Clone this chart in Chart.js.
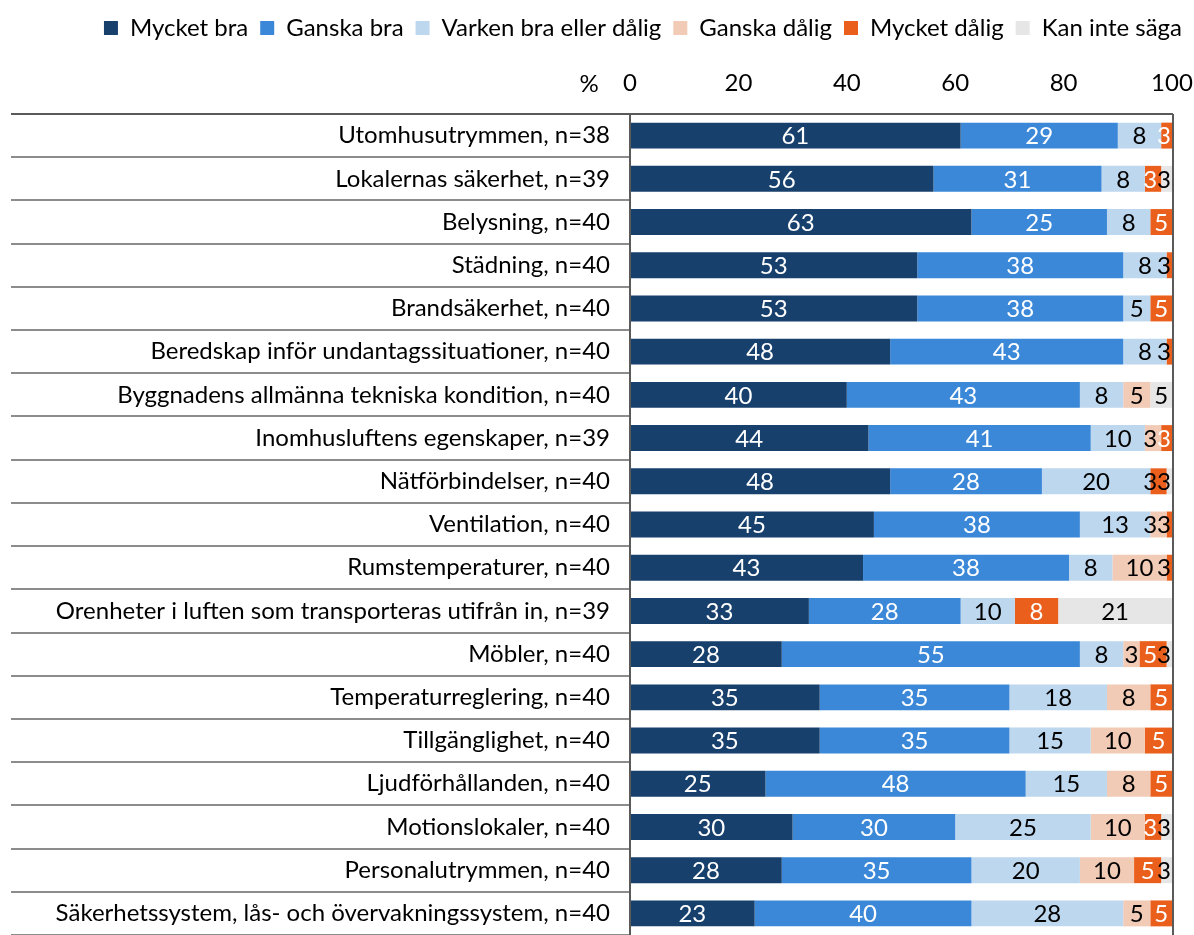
<!DOCTYPE html>
<html>
<head>
<meta charset="utf-8">
<script src="https://cdn.jsdelivr.net/npm/chart.js@4.4.1/dist/chart.umd.min.js"></script>
<style>
    body { margin: 0; background: #fff; }
    #wrap { width: 1194px; height: 935px; position: relative; }
</style>
</head>
<body>
<div id="wrap"><canvas id="betygChart"></canvas></div>
<script>
const kategorier = [
    'Utomhusutrymmen, n=38',
    'Lokalernas säkerhet, n=39',
    'Belysning, n=40',
    'Städning, n=40',
    'Brandsäkerhet, n=40',
    'Beredskap inför undantagssituationer, n=40',
    'Byggnadens allmänna tekniska kondition, n=40',
    'Inomhusluftens egenskaper, n=39',
    'Nätförbindelser, n=40',
    'Ventilation, n=40',
    'Rumstemperaturer, n=40',
    'Orenheter i luften som transporteras utifrån in, n=39',
    'Möbler, n=40',
    'Temperaturreglering, n=40',
    'Tillgänglighet, n=40',
    'Ljudförhållanden, n=40',
    'Motionslokaler, n=40',
    'Personalutrymmen, n=40',
    'Säkerhetssystem, lås- och övervakningssystem, n=40'
];

const mycketBra    = [61, 56, 63, 53, 53, 48, 40, 44, 48, 45, 43, 33, 28, 35, 35, 25, 30, 28, 23];
const ganskaBra    = [29, 31, 25, 38, 38, 43, 43, 41, 28, 38, 38, 28, 55, 35, 35, 48, 30, 35, 40];
const varken       = [8, 8, 8, 8, 5, 8, 8, 10, 20, 13, 8, 10, 8, 18, 15, 15, 25, 20, 28];
const ganskaDalig  = [0, 0, 0, 0, 0, 0, 5, 3, 0, 3, 10, 0, 3, 8, 10, 8, 10, 10, 5];
const mycketDalig  = [3, 3, 5, 3, 5, 3, 0, 3, 3, 3, 3, 8, 5, 5, 5, 5, 3, 5, 5];
const kanInteSaga  = [0, 3, 0, 0, 0, 0, 5, 0, 3, 0, 0, 21, 3, 0, 0, 0, 3, 3, 0];

const xTicks = [0, 20, 40, 60, 80, 100];

const FONT = "Lato, 'Liberation Sans', sans-serif";
const SIZE = 24;
const linje = '#8c8c8c';

function serie(label, data, color, textColor) {
    return {
        label: label,
        data: data,
        backgroundColor: color,
        borderWidth: 0,
        textColor: textColor,
        categoryPercentage: 0.6,
        barPercentage: 1.0
    };
}

// value labels in each segment; rounded shares can run past 100 %,
// so labels are pulled back inside the frame and kept from overlapping
const vardeEtiketter = {
    id: 'vardeEtiketter',
    afterDatasetsDraw(chart) {
        const ctx = chart.ctx;
        const area = chart.chartArea;
        const sets = chart.data.datasets;
        ctx.save();
        ctx.font = SIZE + 'px ' + FONT;
        ctx.textAlign = 'center';
        ctx.textBaseline = 'middle';
        kategorier.forEach((_, j) => {
            const rad = [];
            sets.forEach((ds, i) => {
                const v = ds.data[j];
                if (!v) return;
                const bar = chart.getDatasetMeta(i).data[j];
                const txt = String(v);
                rad.push({
                    txt,
                    w: ctx.measureText(txt).width,
                    y: bar.y + 1,
                    left: Math.min(bar.base, bar.x),
                    right: Math.min(Math.max(bar.base, bar.x), area.right),
                    textColor: ds.textColor
                });
            });
            let grans = area.right - 1;
            for (let k = rad.length - 1; k >= 0; k--) {
                const e = rad[k];
                e.cx = Math.min((e.left + e.right) / 2, grans - e.w / 2);
                grans = e.cx - e.w / 2;
            }
            rad.forEach(e => {
                // dark text when the label no longer sits on its own colour
                const over = Math.min(e.right, e.cx + e.w / 2) - Math.max(e.left, e.cx - e.w / 2);
                ctx.fillStyle = over < e.w * 0.6 ? '#000000' : e.textColor;
                ctx.fillText(e.txt, e.cx, e.y);
            });
        });
        ctx.restore();
    }
};

// row separators in the label column, frame and the % sign
const ram = {
    id: 'ram',
    afterDraw(chart) {
        const ctx = chart.ctx;
        const area = chart.chartArea;
        const y = chart.scales.y;
        const x = chart.scales.x;
        const steg = (y.getPixelForValue(1) - y.getPixelForValue(0));
        ctx.save();
        ctx.strokeStyle = linje;
        ctx.lineWidth = 2;
        for (let i = 1; i <= kategorier.length; i++) {
            const py = Math.round(y.getPixelForValue(i) - steg / 2);
            ctx.beginPath();
            ctx.moveTo(11, py);
            ctx.lineTo(area.left, py);
            ctx.stroke();
        }
        ctx.strokeStyle = '#5a5a5a';
        ctx.beginPath();
        ctx.moveTo(11, area.top);
        ctx.lineTo(area.right + 1, area.top);
        ctx.moveTo(area.right + 1, area.top);
        ctx.lineTo(area.right + 1, area.bottom);
        ctx.moveTo(area.left, area.top);
        ctx.lineTo(area.left, area.bottom);
        ctx.stroke();

        ctx.fillStyle = '#000';
        ctx.font = SIZE + 'px ' + FONT;
        ctx.textAlign = 'center';
        ctx.textBaseline = 'middle';
        ctx.fillText('%', x.getPixelForValue(0) - 41, 84);
        ctx.restore();
    }
};

const ctx = document.getElementById('betygChart').getContext('2d');
const betygChart = new Chart(ctx, {
    type: 'bar',
    data: {
        labels: kategorier,
        datasets: [
            serie('Mycket bra', mycketBra, '#17406d', '#ffffff'),
            serie('Ganska bra', ganskaBra, '#3b88d9', '#ffffff'),
            serie('Varken bra eller dålig', varken, '#bdd7ee', '#000000'),
            serie('Ganska dålig', ganskaDalig, '#f1cbb6', '#000000'),
            serie('Mycket dålig', mycketDalig, '#e95f1b', '#ffffff'),
            serie('Kan inte säga', kanInteSaga, '#e6e6e6', '#000000')
        ]
    },
    options: {
        indexAxis: 'y',
        responsive: true,
        maintainAspectRatio: false,
        animation: false,
        layout: { padding: { left: 0, right: 0, top: 4, bottom: 0 } },
        plugins: {
            legend: {
                position: 'top',
                align: 'end',
                labels: {
                    boxWidth: 14,
                    boxHeight: 14,
                    padding: 12,
                    color: '#000',
                    font: { family: FONT, size: SIZE }
                }
            },
            tooltip: { enabled: false }
        },
        scales: {
            x: {
                stacked: true,
                position: 'top',
                min: 0,
                max: 100,
                afterBuildTicks: scale => {
                    scale.ticks = xTicks.map(v => ({ value: v }));
                },
                afterFit: scale => {
                    scale.height = 64;
                    scale.paddingLeft = 0;
                    scale.paddingRight = 22;
                },
                grid: { display: false, drawTicks: false },
                border: { display: false },
                ticks: {
                    color: '#000',
                    padding: 16,
                    font: { family: FONT, size: SIZE }
                }
            },
            y: {
                stacked: true,
                afterFit: scale => {
                    scale.width = 630;
                    scale.paddingTop = 0;
                    scale.paddingBottom = 0;
                },
                grid: { display: false, drawTicks: false },
                border: { display: false },
                ticks: {
                    color: '#000',
                    padding: 20,
                    font: { family: FONT, size: SIZE }
                }
            }
        }
    },
    plugins: [vardeEtiketter, ram]
});
</script>
</body>
</html>
